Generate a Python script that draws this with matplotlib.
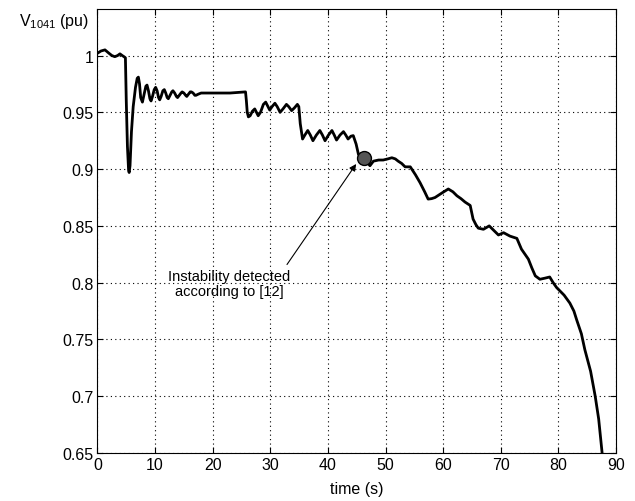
import matplotlib
matplotlib.use("Agg")
import matplotlib.pyplot as plt
from matplotlib.ticker import FormatStrFormatter

plt.rcParams["font.family"] = ["Liberation Sans", "DejaVu Sans"]
plt.rcParams["mathtext.fontset"] = "custom"
plt.rcParams["mathtext.rm"] = "Liberation Sans"

# bus 1041 voltage trace, time in s
time_s = [
    0.0, 0.6, 1.3, 2.0, 2.5, 3.0, 3.5, 3.9, 4.3, 4.6, 4.85,
    5.0, 5.2, 5.4, 5.5, 5.65, 5.9, 6.2, 6.6, 6.9, 7.1,
    7.3, 7.5, 7.8, 8.1, 8.4, 8.6, 8.85, 9.1, 9.3, 9.55, 9.85, 10.1,
    10.35, 10.6, 10.8, 11.05, 11.35, 11.6, 11.85, 12.1, 12.3, 12.6, 12.9, 13.1,
    13.4, 13.7, 13.9, 14.2, 14.5, 14.7, 15.0, 15.3, 15.5, 15.8, 16.1, 16.3,
    16.6, 16.9, 17.1, 17.5, 18.0, 19.0, 21.0, 23.0, 25.7,
    25.85, 26.0, 26.2, 26.5, 26.9, 27.3, 27.6, 27.9, 28.3, 28.8, 29.2,
    29.5, 29.9, 30.3, 30.8, 31.2, 31.7, 32.2, 32.8, 33.2, 33.7, 34.2, 34.7, 34.95,
    35.2, 35.6, 36.0, 36.5, 36.95, 37.4, 38.0, 38.6, 39.05, 39.5, 40.1, 40.7,
    41.1, 41.5, 42.1, 42.7, 43.1, 43.5, 44.0, 44.4, 44.9, 45.3,
    45.8, 46.2, 46.8, 47.3, 47.9, 48.8, 49.6, 50.4, 51.1, 51.7, 52.2, 52.8,
    53.4, 54.3, 55.2, 56.0, 56.8, 57.4, 58.0, 58.6, 59.8, 60.9, 61.7, 62.4,
    63.1, 63.8, 64.7, 65.2, 65.7, 66.1, 67.0, 68.0, 68.8, 69.6, 70.5, 71.6,
    72.8, 73.6, 74.8, 75.4, 76.0, 76.8, 77.7, 78.5, 79.1, 79.7, 81.0, 82.0,
    82.7, 83.2, 84.0, 84.6, 85.6, 86.4, 87.0, 87.6,
]
# voltage in pu, same order as time_s
voltage_pu = [
    1.002, 1.004, 1.005, 1.002, 1.000, 0.999, 1.000, 1.0015, 1.000, 0.999, 0.998,
    0.960, 0.920, 0.899, 0.897, 0.903, 0.933, 0.955, 0.972, 0.980, 0.981,
    0.975, 0.963, 0.959, 0.966, 0.973, 0.974, 0.969, 0.962, 0.960, 0.964, 0.970, 0.972,
    0.969, 0.963, 0.961, 0.964, 0.969, 0.970, 0.967, 0.963, 0.962, 0.965, 0.968, 0.969,
    0.967, 0.964, 0.963, 0.965, 0.967, 0.968, 0.967, 0.965, 0.964, 0.966, 0.968, 0.968,
    0.967, 0.965, 0.965, 0.966, 0.967, 0.967, 0.967, 0.967, 0.968,
    0.960, 0.950, 0.946, 0.947, 0.951, 0.953, 0.950, 0.947, 0.950, 0.957, 0.959,
    0.956, 0.952, 0.955, 0.958, 0.955, 0.950, 0.953, 0.957, 0.955, 0.9515, 0.954, 0.957, 0.955,
    0.940, 0.9265, 0.930, 0.934, 0.930, 0.925, 0.930, 0.934, 0.930, 0.925, 0.930, 0.934,
    0.930, 0.9256, 0.930, 0.933, 0.930, 0.9265, 0.929, 0.9295, 0.922, 0.913,
    0.910, 0.909, 0.906, 0.903, 0.907, 0.908, 0.908, 0.909, 0.910, 0.909, 0.907, 0.905,
    0.902, 0.902, 0.895, 0.888, 0.880, 0.8736, 0.874, 0.875, 0.879, 0.8825, 0.880, 0.8765,
    0.874, 0.871, 0.868, 0.856, 0.851, 0.848, 0.847, 0.850, 0.846, 0.842, 0.844, 0.841,
    0.839, 0.8295, 0.8207, 0.813, 0.806, 0.803, 0.804, 0.805, 0.800, 0.7957, 0.789, 0.782,
    0.775, 0.767, 0.755, 0.741, 0.722, 0.700, 0.680, 0.650,
]

# point where instability is flagged
detect_t = 46.2
detect_v = 0.910

note_text = "Instability detected\naccording to [12]"
note_xy = (22.8, 0.7995)
arrow_tail = (32.9, 0.816)
arrow_head = (44.9, 0.9045)

x_ticks = list(range(0, 91, 10))
y_ticks = [0.65, 0.7, 0.75, 0.8, 0.85, 0.9, 0.95, 1.0]

fig = plt.figure(figsize=(6.35, 5.02), dpi=100)
ax = fig.add_axes([0.1535, 0.0956, 0.8165, 0.8845])

ax.plot(time_s, voltage_pu, color="black", linewidth=2.0,
        solid_joinstyle="round", solid_capstyle="round")
ax.plot(detect_t, detect_v, "o", markersize=10, markerfacecolor="#555555",
        markeredgecolor="black", markeredgewidth=1.0)

ax.annotate("", xy=arrow_head, xytext=arrow_tail,
            arrowprops=dict(arrowstyle="-|>", color="black", lw=0.8,
                            mutation_scale=10, shrinkA=0, shrinkB=0))
ax.text(note_xy[0], note_xy[1], note_text, ha="center", va="center",
        fontsize=10.5, linespacing=1.05)

ax.set_xlim(0, 90)
ax.set_ylim(0.65, 1.041)
ax.set_xticks(x_ticks)
ax.set_yticks(y_ticks)
ax.yaxis.set_major_formatter(FormatStrFormatter("%g"))
ax.grid(True, linestyle=(0, (1, 3)), color="black", linewidth=0.8)
ax.tick_params(direction="in", top=True, right=True, length=4,
               labelsize=11.5, pad=3)
for spine in ax.spines.values():
    spine.set_linewidth(0.8)

ax.set_xlabel("time (s)", fontsize=11.5, labelpad=6)
fig.text(0.03, 0.957, r"$\mathregular{V_{1041}}$ (pu)", fontsize=11.5,
         ha="left", va="center")

fig.savefig("out.png", dpi=100)
